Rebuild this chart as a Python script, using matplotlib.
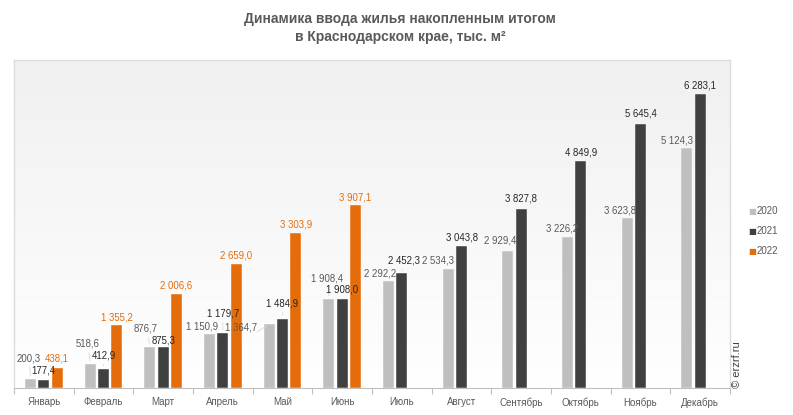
import numpy as np
import matplotlib
matplotlib.use("Agg")
import matplotlib.pyplot as plt
from matplotlib.colors import LinearSegmentedColormap

months = ["Январь", "Февраль", "Март", "Апрель", "Май", "Июнь", "Июль",
          "Август", "Сентябрь", "Октябрь", "Ноябрь", "Декабрь"]
years = ["2020", "2021", "2022"]
v2020 = [200.3, 518.6, 876.7, 1150.9, 1364.7, 1908.4, 2292.2, 2534.3, 2929.4, 3226.2, 3623.8, 5124.3]
v2021 = [177.4, 412.9, 875.3, 1179.7, 1484.9, 1908.0, 2452.3, 3043.8, 3827.8, 4849.9, 5645.4, 6283.1]
v2022 = [438.1, 1355.2, 2006.6, 2659.0, 3303.9, 3907.1]
series = [v2020, v2021, v2022]

colors = ["#bfbfbf", "#404040", "#e46c0a"]
label_colors = ["#595959", "#262626", "#e46c0a"]

# label offsets in pixels (dx, dy above bar top)
offsets = [
    [(-2, 20), (-3, 20), (-4, 18), (-8, 8), (-28, -3), (-2, 20), (-8, 7), (-10, 9), (-8, 10), (-6, 9), (-7, 8), (-10, 8)],
    [(0, 9), (0, 13), (0, 7), (0, 19), (0, 15), (0, 9), (2, 13), (0, 8), (0, 10), (0, 9), (0, 10), (0, 9)],
    [(0, 9), (0, 7), (0, 9), (0, 8), (0, 9), (0, 8)],
]

def fmt(v):
    s = f"{v:,.1f}".replace(",", " ").replace(".", ",")
    return s

fig = plt.figure(figsize=(7.93, 4.15), dpi=100)
ax = fig.add_axes([14 / 793, 1 - 388 / 415, (730 - 14) / 793, (388 - 60) / 415])

ymax = 7010
ax.set_xlim(-0.5, 11.5)
ax.set_ylim(0, ymax)

# gradient background
grad = np.linspace(1, 0, 256).reshape(-1, 1)
cmap = LinearSegmentedColormap.from_list("bg", ["#f0f0f0", "#ffffff"])
ax.imshow(grad, aspect="auto", cmap=cmap, extent=[-0.5, 11.5, 0, ymax], origin="lower", zorder=0)

x = np.arange(len(months))
w = 0.185
step = 0.222
for i, (vals, c) in enumerate(zip(series, colors)):
    xs = x[:len(vals)] + (i - 1) * step
    ax.bar(xs, vals, width=w, color=c, zorder=2, label=years[i],
           edgecolor="#ffffff", linewidth=0.3)
    for j, (xx, v) in enumerate(zip(xs, vals)):
        dx, dy = offsets[i][j]
        ax.annotate(fmt(v), xy=(xx, v), xytext=(dx, dy), textcoords="offset pixels",
                    ha="center", va="center", fontsize=6.9, color=label_colors[i], zorder=4,
                    family="Liberation Sans")
        if dy > 12 or abs(dx) > 12:
            ax.annotate("", xy=(xx, v), xytext=(dx * 0.5, dy - 6), textcoords="offset pixels",
                        arrowprops=dict(arrowstyle="-", color="#dadada", lw=0.6), zorder=3)

for s in ["top", "right", "left"]:
    ax.spines[s].set_color("#dcdcdc")
    ax.spines[s].set_linewidth(1)
ax.spines["bottom"].set_color("#bfbfbf")
ax.set_yticks([])
ax.set_xticks(np.arange(-0.5, 12, 1), minor=False)
ax.set_xticklabels([])
ax.tick_params(axis="x", length=4, color="#bfbfbf", direction="out")
for i, m in enumerate(months):
    ax.text(i, -0.028, m, transform=ax.get_xaxis_transform(), ha="center", va="top",
            fontsize=7, color="#595959", family="Liberation Sans")

fig.text(400 / 793, 1 - 28 / 415, "Динамика ввода жилья накопленным итогом\nв Краснодарском крае, тыс. м²",
         ha="center", va="center", fontsize=10, fontweight="bold", color="#595959",
         family="Liberation Sans", linespacing=1.4)

for i, (yr, c) in enumerate(zip(years, colors)):
    yy = 1 - (211 + 20 * i) / 415
    fig.text(752.5 / 793, yy, "■", color=c, fontsize=6, ha="center", va="center", family="DejaVu Sans")
    fig.text(757 / 793, yy, yr, color="#595959", fontsize=7, ha="left", va="center", family="Liberation Sans")

fig.text(737 / 793, 1 - 365 / 415, "© erzrf.ru", rotation=90, ha="center", va="center",
         fontsize=8, color="#404040", family="Liberation Sans")

fig.savefig("out.png", dpi=100)
